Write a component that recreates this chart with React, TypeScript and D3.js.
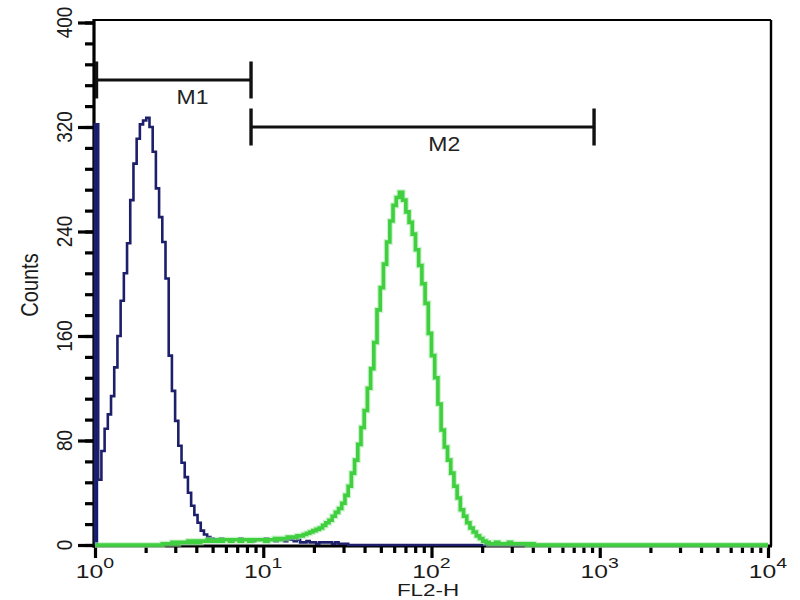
import React, { useEffect, useRef } from "react";
import * as d3 from "d3";

// histogram channels spread over the 4 log decades of the x axis
const TOTAL_BINS = 210;

// blue (control) histogram, counts from channel 0
const blueCounts = [
    322, 50, 72, 89, 100, 114, 136, 160, 187, 208,
    231, 264, 292, 311, 322, 325, 327, 320, 301, 273,
    251, 232, 204, 145, 118, 95, 76, 63, 52, 40,
    30, 23, 17, 11, 8, 6, 5, 4, 4, 5,
    4, 4, 3, 4, 4, 5, 4, 4, 4, 3,
    4, 4, 4, 5, 4, 4, 3, 4, 4, 3,
    4, 4, 3, 4, 2, 2, 3, 2, 2, 1,
    2, 2, 2, 2, 1, 2, 1, 1, 1, 0,
];

// green (stained) histogram, counts from channel greenStartBin
const greenStartBin = 20;
const greenCounts = [
    0, 1, 1, 1, 2, 1, 2, 2, 2, 3, 2,
    3, 2, 3, 3, 4, 3, 3, 4, 3, 4,
    4, 3, 4, 4, 3, 4, 4, 3, 4, 4,
    4, 4, 3, 4, 4, 5, 4, 5, 5, 6,
    6, 6, 7, 7, 8, 9, 10, 11, 12, 13,
    15, 17, 19, 22, 25, 28, 32, 38, 45, 55,
    65, 77, 90, 103, 120, 135, 155, 180, 197, 215,
    232, 248, 260, 266, 270, 264, 255, 247, 238, 226,
    214, 200, 185, 162, 145, 128, 108, 88, 75, 65,
    55, 45, 36, 27, 22, 17, 13, 10, 7, 5,
    3, 2, 1, 1, 2, 1, 1, 1, 2, 1,
    1, 1, 1, 1, 0, 1, 0, 0, 0, 0,
];

const yMajorTicks = [0, 80, 160, 240, 320, 400];
const yMinorStep = 16;
const xDecades = [1, 10, 100, 1000, 10000];
const xExponents = ["0", "1", "2", "3", "4"];

// gates
const markerNames = ["M1", "M2"];
const markerStarts = [1, 8.46];
const markerEnds = [8.46, 925];
const markerLevels = [356, 320];
const markerLabelAt = [3.8, 119];

const FONT = "'Liberation Sans', Arial, Helvetica, sans-serif";

export default function App() {
    const svgRef = useRef<SVGSVGElement>(null);

    useEffect(() => {
        const svg = d3.select(svgRef.current);
        svg.selectAll("*").remove();

        const left = 95, right = 768, bottom = 545, top = 22.5;
        const frameRight = 771, frameTop = 20;

        const x = d3.scaleLog().domain([1, 10000]).range([left, right]);
        const y = d3.scaleLinear().domain([0, 400]).range([bottom, top]);
        const binExp = d3.scaleLinear().domain([0, TOTAL_BINS]).range([0, 4]);
        const edge = (i: number) => Math.pow(10, binExp(i));

        // Y ticks
        const yMinor = d3.range(0, 401, yMinorStep);
        const yAxisMinor = svg.append("g")
            .attr("transform", `translate(${left - 1},0)`)
            .call(d3.axisLeft(y).tickValues(yMinor).tickSize(9).tickFormat(() => ""));
        const yAxisMajor = svg.append("g")
            .attr("transform", `translate(${left - 1},0)`)
            .call(d3.axisLeft(y).tickValues(yMajorTicks).tickSize(16).tickFormat(() => ""));

        // X ticks
        const xMinor: number[] = [];
        xDecades.slice(0, -1).forEach((d) => {
            d3.range(2, 10).forEach((m) => xMinor.push(d * m));
        });
        const xAxisMinor = svg.append("g")
            .attr("transform", `translate(0,${bottom + 1})`)
            .call(d3.axisBottom(x).tickValues(xMinor).tickSize(7).tickFormat(() => ""));
        const xAxisMajor = svg.append("g")
            .attr("transform", `translate(0,${bottom + 1})`)
            .call(d3.axisBottom(x).tickValues(xDecades).tickSize(12).tickFormat(() => ""));

        [yAxisMinor, yAxisMajor, xAxisMinor, xAxisMajor].forEach((a) => {
            a.select(".domain").remove();
            a.selectAll(".tick line").attr("stroke", "#000").attr("stroke-width", 3.2);
        });

        // frame
        svg.append("line").attr("x1", left - 1).attr("x2", frameRight).attr("y1", frameTop).attr("y2", frameTop)
            .attr("stroke", "#000").attr("stroke-width", 2.2);
        svg.append("line").attr("x1", frameRight).attr("x2", frameRight).attr("y1", frameTop).attr("y2", bottom + 1)
            .attr("stroke", "#000").attr("stroke-width", 2.4);
        svg.append("line").attr("x1", left - 1).attr("x2", left - 1).attr("y1", frameTop - 1).attr("y2", bottom + 2.5)
            .attr("stroke", "#000").attr("stroke-width", 3.2);
        svg.append("line").attr("x1", left - 2.5).attr("x2", frameRight + 1).attr("y1", bottom + 1).attr("y2", bottom + 1)
            .attr("stroke", "#000").attr("stroke-width", 3.2);

        // Y labels (rotated)
        svg.append("g").selectAll("text")
            .data(yMajorTicks)
            .join("text")
            .attr("transform", (d) => `translate(72,${y(d)}) rotate(-90) scale(1,1.15)`)
            .attr("text-anchor", "middle")
            .attr("font-family", FONT)
            .attr("font-size", 19)
            .attr("fill", "#1a1a1a")
            .text((d) => d);

        // X labels 10^n
        const xl = svg.append("g").selectAll("text")
            .data(xDecades)
            .join("text")
            .attr("transform", (d) => `translate(${x(d)},578) scale(1.3,1)`)
            .attr("text-anchor", "middle")
            .attr("font-family", FONT)
            .attr("font-size", 19)
            .attr("fill", "#1a1a1a");
        xl.append("tspan").text("10");
        xl.append("tspan")
            .attr("dy", -10)
            .attr("font-size", 15)
            .text((_, i) => xExponents[i]);

        svg.append("text")
            .attr("transform", `translate(428,596) scale(1.4,1)`)
            .attr("text-anchor", "middle")
            .attr("font-family", FONT)
            .attr("font-size", 16)
            .attr("fill", "#1a1a1a")
            .text("FL2-H");

        svg.append("text")
            .attr("transform", `translate(38,285) rotate(-90) scale(1,1.2)`)
            .attr("text-anchor", "middle")
            .attr("font-family", FONT)
            .attr("font-size", 20)
            .attr("fill", "#1a1a1a")
            .text("Counts");

        // histograms
        const blueFull = d3.range(TOTAL_BINS).map((i) => blueCounts[i] ?? 0);
        const greenFull = d3.range(TOTAL_BINS).map((i) => greenCounts[i - greenStartBin] ?? 0);
        const toPoints = (counts: number[]): [number, number][] => [
            [edge(0), 0],
            ...counts.map((c, i) => [edge(i), c] as [number, number]),
            [edge(TOTAL_BINS), 0],
        ];
        const line = d3.line<[number, number]>()
            .x((d) => x(d[0]))
            .y((d) => y(d[1]))
            .curve(d3.curveStepAfter);

        // off-scale pile-up in channel 0
        svg.append("rect")
            .attr("x", x(edge(0)))
            .attr("y", y(blueFull[0]))
            .attr("width", x(edge(1)) - x(edge(0)))
            .attr("height", bottom - y(blueFull[0]))
            .attr("fill", "#15197a");

        svg.append("path")
            .attr("d", line(toPoints(blueFull)))
            .attr("fill", "none")
            .attr("stroke", "#1d1f6b")
            .attr("stroke-width", 2.6);

        svg.append("path")
            .attr("d", line(toPoints(greenFull)))
            .attr("fill", "none")
            .attr("stroke", "#aeeaae")
            .attr("stroke-width", 6)
            .attr("opacity", 0.6);
        svg.append("path")
            .attr("d", line(toPoints(greenFull)))
            .attr("fill", "none")
            .attr("stroke", "#3fcf3f")
            .attr("stroke-width", 3.6);

        // markers
        const mk = svg.append("g").selectAll("g")
            .data(markerNames)
            .join("g");
        mk.append("line")
            .attr("x1", (_, i) => x(markerStarts[i]))
            .attr("x2", (_, i) => x(markerEnds[i]))
            .attr("y1", (_, i) => y(markerLevels[i]))
            .attr("y2", (_, i) => y(markerLevels[i]))
            .attr("stroke", "#111")
            .attr("stroke-width", 2.8);
        [markerStarts, markerEnds].forEach((arr, side) => {
            mk.append("line")
                .attr("x1", (_, i) => x(arr[i]) + (side === 0 && i === 0 ? 1.5 : 0))
                .attr("x2", (_, i) => x(arr[i]) + (side === 0 && i === 0 ? 1.5 : 0))
                .attr("y1", (_, i) => y(markerLevels[i]) - 18.5)
                .attr("y2", (_, i) => y(markerLevels[i]) + 18.5)
                .attr("stroke", "#111")
                .attr("stroke-width", 3.4);
        });
        mk.append("text")
            .attr("transform", (_, i) => `translate(${x(markerLabelAt[i])},${y(markerLevels[i]) + 24}) scale(1.15,1)`)
            .attr("text-anchor", "middle")
            .attr("font-family", FONT)
            .attr("font-size", 20)
            .attr("fill", "#222")
            .text((d) => d);
    }, []);

    return (
        <svg
            ref={svgRef}
            width={800}
            height={600}
            style={{ position: "absolute", left: 0, top: 0, background: "#fff" }}
        />
    );
}
